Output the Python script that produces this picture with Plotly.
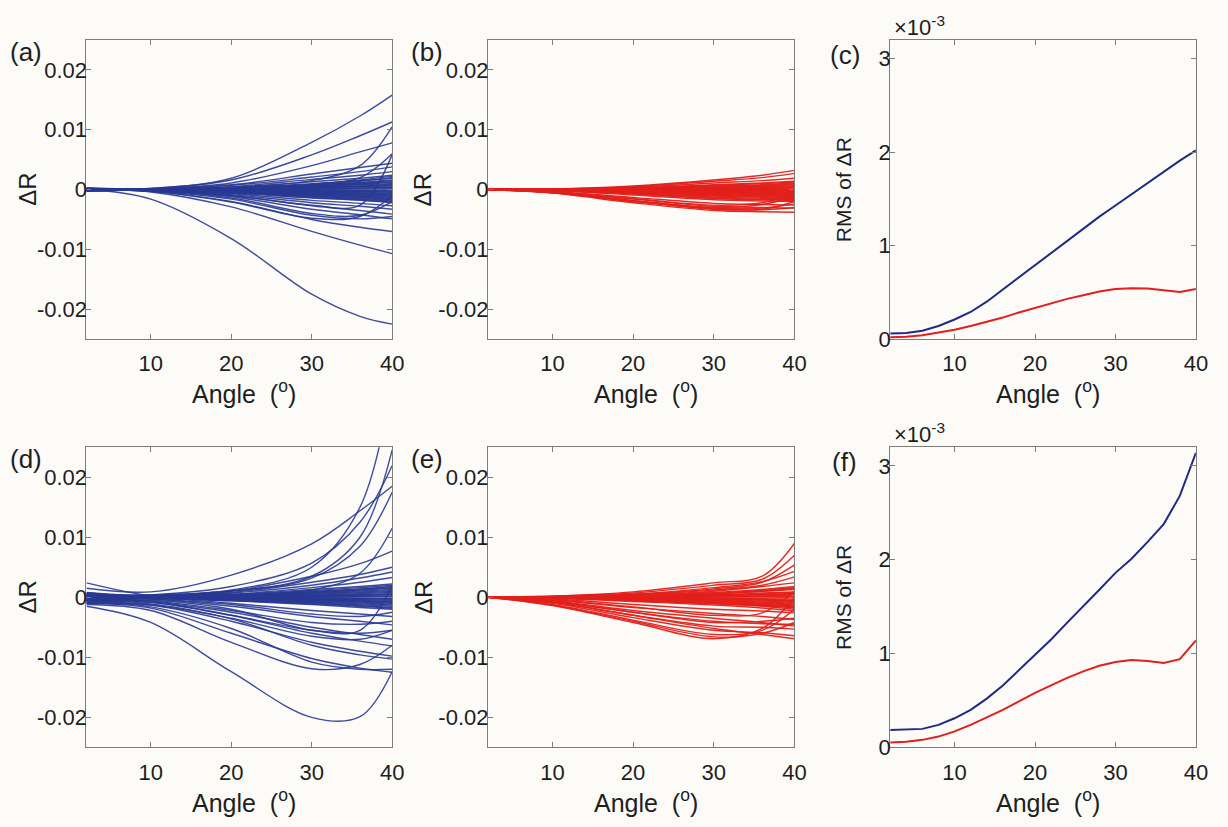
import plotly.graph_objects as go

# Angle nodes (degrees) at which each ΔR realisation is sampled
ANGLE_NODES = [2, 10, 20, 30, 36, 40]
# Angle grid of the RMS curves (degrees)
ANGLES = list(range(2, 41, 2))

# ΔR realisations, values in units of 1e-3 at ANGLE_NODES
dR_a = [
    [0.0, 0.2, 1.9, 7.9, 12.3, 15.8],
    [0.1, 0.2, 1.6, 5.8, 9.0, 11.3],
    [0.0, 0.1, 0.4, 1.5, 4.0, 10.5],
    [0.0, 0.1, 1.1, 4.0, 6.3, 7.8],
    [-0.1, 0.0, 0.3, 0.9, 2.0, 6.0],
    [0.0, 0.1, 0.8, 2.6, 3.7, 4.4],
    [0.1, 0.1, 0.7, 2.1, 3.0, 3.8],
    [0.0, 0.0, 0.5, 1.7, 2.4, 3.0],
    [-0.1, 0.0, 0.4, 1.3, 1.9, 2.4],
    [0.1, 0.05, 0.3, 1.0, 1.5, 1.9],
    [0.0, 0.05, 0.25, 0.8, 1.2, 1.6],
    [0.3, 0.0, 0.2, 0.6, 1.0, 1.3],
    [-0.2, 0.0, 0.15, 0.5, 0.8, 1.0],
    [0.0, 0.0, 0.1, 0.35, 0.55, 0.7],
    [0.2, 0.0, 0.05, 0.2, 0.3, 0.4],
    [-0.3, 0.0, 0.0, 0.05, 0.1, 0.15],
    [0.0, 0.0, -0.05, -0.1, -0.15, -0.2],
    [0.2, 0.0, -0.1, -0.25, -0.35, -0.45],
    [-0.2, -0.05, -0.15, -0.4, -0.55, -0.7],
    [0.0, -0.05, -0.2, -0.55, -0.75, -0.95],
    [0.1, -0.05, -0.3, -0.7, -0.95, -1.2],
    [-0.1, -0.05, -0.35, -0.85, -1.15, -1.45],
    [0.0, -0.1, -0.4, -1.0, -1.35, -1.7],
    [0.0, -0.1, -0.5, -1.2, -1.6, -1.95],
    [0.1, -0.1, -0.6, -1.4, -1.8, -2.2],
    [0.15, 0.02, 0.12, 0.45, 0.9, 1.2],
    [-0.15, 0.0, 0.08, 0.3, 0.6, 0.9],
    [0.25, 0.01, 0.02, 0.12, 0.25, 0.35],
    [-0.25, -0.02, -0.08, -0.2, -0.3, -0.35],
    [0.05, -0.03, -0.12, -0.35, -0.5, -0.6],
    [-0.05, -0.04, -0.18, -0.5, -0.7, -0.85],
    [0.15, -0.06, -0.25, -0.6, -0.85, -1.1],
    [-0.15, -0.06, -0.3, -0.75, -1.05, -1.3],
    [0.05, -0.08, -0.38, -0.9, -1.25, -1.55],
    [-0.05, -0.08, -0.45, -1.1, -1.5, -1.8],
    [0.1, 0.03, 0.18, 0.6, 1.1, 1.5],
    [-0.1, 0.04, 0.22, 0.7, 1.4, 2.0],
    [0.0, 0.02, 0.1, 0.25, 0.5, 0.6],
    [0.2, -0.02, -0.02, -0.05, -0.1, -0.05],
    [-0.2, -0.1, -0.5, -1.3, -1.7, -2.1],
    [0.0, 0.06, 0.28, 0.85, 1.6, 2.2],
    [0.0, -0.1, -0.7, -1.8, -2.3, -2.7],
    [-0.1, -0.15, -0.85, -2.2, -2.8, -3.3],
    [0.0, -0.15, -1.0, -2.7, -3.5, -4.1],
    [0.0, -0.2, -1.2, -3.3, -4.2, -4.9],
    [-0.1, -0.2, -1.4, -4.0, -4.3, -2.0],
    [0.0, -0.25, -1.6, -4.3, -4.9, -4.5],
    [0.0, -0.3, -2.0, -5.0, -6.3, -7.0],
    [0.0, -0.3, -2.1, -4.8, -4.5, -1.0],
    [0.0, -0.15, -1.0, -2.6, -2.6, 5.8],
    [0.0, -0.4, -2.9, -7.0, -9.3, -10.7],
    [0.0, -1.6, -8.2, -17.5, -21.2, -22.5],
]

dR_b = [
    [0, 0.1, 0.6, 1.6, 2.4, 3.2],
    [0, 0.1, 0.5, 1.4, 2.0, 2.7],
    [0, 0.05, 0.4, 1.1, 1.5, 1.9],
    [0, 0.05, 0.3, 0.8, 1.1, 1.4],
    [0, 0.0, 0.2, 0.6, 0.8, 1.1],
    [0, 0.0, 0.15, 0.4, 0.6, 0.8],
    [0, 0.0, 0.1, 0.25, 0.4, 0.5],
    [0, 0.0, 0.05, 0.1, 0.2, 0.25],
    [0, 0.0, 0.0, 0.0, 0.0, 0.0],
    [0, 0.0, -0.05, -0.1, -0.15, -0.2],
    [0, -0.05, -0.1, -0.25, -0.3, -0.4],
    [0, -0.05, -0.2, -0.4, -0.5, -0.6],
    [0, -0.05, -0.25, -0.55, -0.7, -0.8],
    [0, -0.1, -0.35, -0.7, -0.85, -1.0],
    [0, -0.1, -0.45, -0.9, -1.05, -1.2],
    [0, -0.1, -0.55, -1.1, -1.3, -1.5],
    [0, -0.15, -0.7, -1.4, -1.6, -1.7],
    [0, -0.2, -0.9, -1.7, -1.9, -2.0],
    [0, 0.02, 0.08, 0.2, 0.3, 0.35],
    [0, 0.02, 0.12, 0.32, 0.5, 0.65],
    [0, 0.03, 0.18, 0.5, 0.7, 0.95],
    [0, -0.02, -0.08, -0.18, -0.22, -0.3],
    [0, -0.03, -0.15, -0.32, -0.4, -0.5],
    [0, -0.04, -0.22, -0.48, -0.6, -0.7],
    [0, -0.06, -0.3, -0.62, -0.78, -0.9],
    [0, -0.08, -0.4, -0.8, -0.95, -1.1],
    [0, -0.1, -0.5, -1.0, -1.2, -1.35],
    [0, -0.12, -0.62, -1.25, -1.45, -1.6],
    [0, 0.0, 0.02, 0.05, 0.08, 0.1],
    [0, -0.01, -0.03, -0.05, -0.08, -0.1],
    [0, 0.04, 0.25, 0.7, 1.0, 1.25],
    [0, -0.15, -0.75, -1.5, -1.7, -1.85],
    [0, -0.3, -1.3, -2.3, -2.5, -2.6],
    [0, -0.4, -1.6, -2.8, -3.0, -3.1],
    [0, -0.5, -1.9, -3.1, -3.1, -2.4],
    [0, -0.55, -2.0, -3.3, -3.4, -3.0],
    [0, -0.6, -2.2, -3.5, -3.7, -3.8],
    [0, -0.5, -1.8, -3.0, -2.5, -1.2],
    [0, -0.4, -1.5, -2.6, -2.2, -0.5],
    [0, -0.5, -1.9, -3.2, -3.3, -2.0],
]

dR_d = [
    [0.5, 0.4, 1.2, 5.0, 15.0, 36.0],
    [0.0, 0.3, 1.0, 3.5, 10.0, 24.5],
    [1.5, 0.9, 3.7, 8.9, 14.4, 18.5],
    [0.3, 0.4, 1.8, 5.7, 12.5, 21.9],
    [0.2, 0.2, 1.0, 3.2, 8.5, 17.5],
    [-0.3, 0.0, 0.4, 1.2, 4.0, 11.5],
    [0.4, 0.3, 1.1, 3.5, 5.6, 7.7],
    [0.0, 0.2, 0.8, 2.5, 3.8, 5.0],
    [0.6, 0.2, 0.7, 2.0, 3.2, 4.2],
    [-0.2, 0.1, 0.5, 1.6, 2.5, 3.3],
    [0.8, 0.2, 0.4, 1.1, 1.6, 2.0],
    [-0.4, 0.1, 0.3, 0.8, 1.2, 1.5],
    [0.2, 0.1, 0.2, 0.6, 0.9, 1.1],
    [-0.6, 0.0, 0.1, 0.4, 0.6, 0.8],
    [0.5, 0.0, 0.1, 0.2, 0.3, 0.4],
    [-0.1, 0.0, 0.0, 0.0, 0.05, 0.1],
    [0.3, 0.0, -0.1, -0.2, -0.25, -0.3],
    [-0.8, -0.1, -0.2, -0.4, -0.55, -0.7],
    [0.1, -0.1, -0.3, -0.6, -0.8, -1.0],
    [-0.3, -0.2, -0.4, -0.8, -1.1, -1.3],
    [0.7, -0.1, -0.5, -1.0, -1.4, -1.7],
    [-0.5, -0.2, -0.6, -1.2, -1.7, -2.0],
    [0.6, 0.1, 0.35, 0.95, 1.4, 1.8],
    [-0.6, 0.05, 0.25, 0.7, 1.05, 1.3],
    [0.4, 0.05, 0.15, 0.5, 0.75, 0.95],
    [-0.4, 0.0, 0.05, 0.3, 0.45, 0.6],
    [0.2, 0.0, 0.02, 0.1, 0.15, 0.2],
    [-0.2, 0.0, -0.05, -0.1, -0.15, -0.15],
    [0.5, -0.05, -0.15, -0.3, -0.4, -0.5],
    [-0.5, -0.08, -0.25, -0.5, -0.7, -0.85],
    [0.0, -0.1, -0.35, -0.7, -0.95, -1.15],
    [0.3, -0.12, -0.45, -0.9, -1.25, -1.5],
    [-0.3, -0.15, -0.55, -1.1, -1.5, -1.85],
    [0.1, 0.08, 0.3, 0.85, 1.3, 1.65],
    [-0.1, 0.02, 0.08, 0.2, 0.35, 0.45],
    [0.7, -0.02, -0.08, -0.2, -0.25, -0.3],
    [-0.7, -0.06, -0.2, -0.4, -0.6, -0.7],
    [0.0, 0.1, 0.45, 1.3, 1.8, 2.2],
    [2.4, 0.2, -1.0, -2.2, -2.8, -3.2],
    [0.0, -0.3, -1.5, -3.2, -4.0, -4.6],
    [-0.5, -0.8, -2.5, -5.0, -6.2, -7.0],
    [-0.3, -0.7, -3.0, -6.0, -7.3, -8.1],
    [-0.8, -1.3, -4.0, -7.5, -9.0, -9.8],
    [-0.6, -1.1, -3.6, -8.0, -9.6, -10.3],
    [-1.0, -1.8, -6.0, -10.2, -11.8, -12.5],
    [-0.9, -1.6, -5.2, -10.8, -12.0, -12.0],
    [-1.2, -2.2, -7.5, -11.9, -11.2, -8.0],
    [-1.5, -4.2, -12.4, -20.0, -19.9, -12.4],
    [-0.5, -0.5, -2.0, -5.5, -5.5, 2.0],
    [-0.4, -0.6, -2.2, -4.2, -4.5, -4.0],
    [-0.7, -0.9, -3.0, -5.5, -6.0, -5.5],
    [-1.0, -1.3, -3.5, -6.5, -7.0, -5.5],
    [0.2, -0.3, -1.2, -2.8, -3.2, -2.5],
]

dR_e = [
    [0, 0.2, 0.9, 2.4, 3.5, 9.0],
    [0, 0.15, 0.7, 2.0, 3.0, 7.0],
    [0, 0.1, 0.5, 1.4, 2.5, 5.4],
    [0, 0.1, 0.5, 1.6, 2.6, 4.3],
    [0, 0.1, 0.4, 1.2, 2.0, 3.4],
    [0, 0.05, 0.3, 1.0, 1.8, 2.4],
    [0, 0.05, 0.25, 0.8, 1.3, 1.8],
    [0, 0.05, 0.2, 0.6, 1.0, 1.3],
    [0, 0.0, 0.15, 0.4, 0.7, 0.9],
    [0, 0.0, 0.1, 0.25, 0.4, 0.5],
    [0, 0.0, 0.0, 0.05, 0.1, 0.1],
    [0, 0.0, -0.05, -0.15, -0.25, -0.3],
    [0, -0.05, -0.15, -0.3, -0.5, -0.7],
    [0, -0.05, -0.25, -0.5, -0.8, -1.0],
    [0, -0.1, -0.35, -0.7, -1.0, -1.3],
    [0, -0.1, -0.45, -0.9, -1.3, -1.6],
    [0, -0.15, -0.6, -1.1, -1.5, -2.0],
    [0, 0.03, 0.18, 0.55, 1.0, 1.5],
    [0, 0.02, 0.12, 0.35, 0.6, 0.8],
    [0, 0.01, 0.05, 0.15, 0.25, 0.35],
    [0, -0.02, -0.08, -0.2, -0.35, -0.5],
    [0, -0.03, -0.2, -0.4, -0.65, -0.85],
    [0, -0.05, -0.3, -0.6, -0.9, -1.15],
    [0, -0.08, -0.4, -0.8, -1.15, -1.45],
    [0, -0.12, -0.52, -1.0, -1.4, -1.8],
    [0, -0.18, -0.7, -1.3, -1.8, -2.3],
    [0, 0.0, 0.02, 0.05, 0.05, 0.0],
    [0, 0.04, 0.22, 0.65, 1.15, 1.6],
    [0, -0.04, -0.12, -0.25, -0.4, -0.6],
    [0, 0.02, 0.08, 0.25, 0.45, 0.65],
    [0, -0.1, -0.45, -0.9, -1.25, -1.65],
    [0, -0.3, -1.2, -2.0, -2.3, -2.6],
    [0, -0.5, -1.7, -2.7, -3.2, -3.7],
    [0, -0.6, -2.2, -3.5, -4.2, -4.8],
    [0, -0.7, -2.5, -4.2, -4.0, -3.5],
    [0, -0.9, -3.0, -4.8, -5.0, -5.3],
    [0, -1.0, -3.4, -5.5, -5.9, -6.4],
    [0, -1.2, -3.8, -6.2, -5.5, -2.0],
    [0, -1.3, -4.0, -6.6, -6.0, -4.2],
    [0, -1.4, -4.2, -6.9, -5.2, 0.0],
    [0, -0.8, -3.0, -5.2, -6.2, -6.9],
    [0, -0.7, -2.5, -4.0, -4.4, -4.5],
    [0, -0.4, -1.6, -3.0, -2.6, 1.0],
]

# RMS of ΔR (units of 1e-3) on the ANGLES grid
rms_c_blue = [0.06, 0.065, 0.09, 0.14, 0.21, 0.29, 0.40, 0.53, 0.66, 0.79,
              0.92, 1.05, 1.18, 1.31, 1.43, 1.55, 1.67, 1.79, 1.91, 2.02]
rms_c_red = [0.02, 0.025, 0.04, 0.07, 0.10, 0.14, 0.185, 0.23, 0.285, 0.335,
             0.385, 0.43, 0.47, 0.51, 0.535, 0.545, 0.54, 0.52, 0.505, 0.535]
rms_f_blue = [0.186, 0.19, 0.197, 0.24, 0.31, 0.40, 0.52, 0.66, 0.82, 0.98,
              1.15, 1.33, 1.50, 1.68, 1.86, 2.01, 2.19, 2.38, 2.68, 3.14]
rms_f_red = [0.053, 0.06, 0.08, 0.115, 0.17, 0.24, 0.32, 0.40, 0.49, 0.58,
             0.66, 0.74, 0.81, 0.87, 0.91, 0.93, 0.92, 0.90, 0.94, 1.14]

X_TICKS = [10, 20, 30, 40]
DR_TICKS = [-0.02, -0.01, 0, 0.01, 0.02]
DR_TICKTEXT = ["-0.02", "-0.01", "0", "0.01", "0.02"]
RMS_TICKS = [0, 1, 2, 3]
RMS_TICKTEXT = ["0", "1", "2", "3"]
PANEL_LABELS = ["(a)", "(b)", "(c)", "(d)", "(e)", "(f)"]

W, H = 1228, 827
FONT = "Liberation Sans, Arial, sans-serif"
BG = "#fcfbf8"
TEXT = "#1e1e1e"
AXIS_GREY = "#7d7d7d"
BLUE_THIN = "rgba(40,56,146,0.9)"
RED_THIN = "rgba(226,32,26,0.95)"
BLUE_RMS = "rgb(32,42,130)"
RED_RMS = "rgb(226,30,30)"

# subplot boxes in pixels: (left, right) per column, (top, bottom) per row
COLS = [(87.3, 396.0), (492.7, 802.3), (899.0, 1207.7)]
ROWS = [(40.7, 344.5), (454.3, 759.3)]


def px_x(v):
    return v / W


def px_y(v):
    return 1 - v / H


fig = go.Figure()
layout = {}
annotations = []

panels = [dR_a, dR_b, None, dR_d, dR_e, None]
rms_sets = {2: (rms_c_blue, rms_c_red), 5: (rms_f_blue, rms_f_red)}

for i in range(6):
    r, c = divmod(i, 3)
    sfx = "" if i == 0 else str(i + 1)
    xa, ya = "x" + sfx, "y" + sfx
    left, right = COLS[c]
    top, bottom = ROWS[r]
    is_rms = i in rms_sets

    axis_style = dict(
        showline=True, mirror="ticks", linecolor=AXIS_GREY, linewidth=1,
        ticks="inside", ticklen=5, tickcolor=AXIS_GREY, tickwidth=1,
        showgrid=False, zeroline=False,
        tickfont=dict(family=FONT, size=22, color=TEXT),
    )
    layout["xaxis" + sfx] = dict(
        axis_style, domain=[px_x(left), px_x(right)], anchor=ya,
        range=[2, 40], tickvals=X_TICKS, ticktext=[str(t) for t in X_TICKS],
        ticklabelstandoff=5,
    )
    if is_rms:
        layout["yaxis" + sfx] = dict(
            axis_style, domain=[px_y(bottom), px_y(top)], anchor=xa,
            range=[0, 3.2], tickvals=RMS_TICKS, ticktext=RMS_TICKTEXT,
            ticklabelstandoff=-6,
        )
        blue, red = rms_sets[i]
        fig.add_trace(go.Scatter(x=ANGLES, y=blue, mode="lines", xaxis=xa, yaxis=ya,
                                 line=dict(color=BLUE_RMS, width=2),
                                 showlegend=False, hoverinfo="skip"))
        fig.add_trace(go.Scatter(x=ANGLES, y=red, mode="lines", xaxis=xa, yaxis=ya,
                                 line=dict(color=RED_RMS, width=2),
                                 showlegend=False, hoverinfo="skip"))
        ytitle, ysize = "RMS of ΔR", 21
        annotations.append(dict(
            text="×10<sup>-3</sup>", x=px_x(left + 2), y=px_y(top - 14),
            xref="paper", yref="paper", xanchor="left", yanchor="middle",
            showarrow=False, font=dict(family=FONT, size=22, color=TEXT)))
    else:
        layout["yaxis" + sfx] = dict(
            axis_style, domain=[px_y(bottom), px_y(top)], anchor=xa,
            range=[-0.025, 0.025], tickvals=DR_TICKS, ticktext=DR_TICKTEXT,
            ticklabelstandoff=-6,
        )
        color = BLUE_THIN if c == 0 else RED_THIN
        for row in panels[i]:
            fig.add_trace(go.Scatter(
                x=ANGLE_NODES, y=[v * 1e-3 for v in row], mode="lines",
                xaxis=xa, yaxis=ya,
                line=dict(color=color, width=1.4, shape="spline", smoothing=1.0),
                showlegend=False, hoverinfo="skip"))
        ytitle, ysize = "ΔR", 24

    # y-axis title
    ytx = {0: 27.5, 1: 427.0, 2: 852.0}[c]
    annotations.append(dict(
        text=ytitle, x=px_x(ytx), y=px_y((top + bottom) / 2),
        xref="paper", yref="paper", xanchor="center", yanchor="middle",
        textangle=-90, showarrow=False,
        font=dict(family=FONT, size=ysize, color=TEXT)))
    # x-axis title
    annotations.append(dict(
        text="Angle  (<sup>o</sup>)", x=px_x((left + right) / 2 + 5),
        y=px_y(bottom + 54), xref="paper", yref="paper",
        xanchor="center", yanchor="middle", showarrow=False,
        font=dict(family=FONT, size=25, color=TEXT)))
    # panel label
    lx = {0: 26.5, 1: 431.0, 2: 853.0}[c]
    ly = top + (12 if c < 2 else 15)
    annotations.append(dict(
        text=PANEL_LABELS[i], x=px_x(lx), y=px_y(ly),
        xref="paper", yref="paper", xanchor="center", yanchor="middle",
        showarrow=False, font=dict(family=FONT, size=26, color=TEXT)))

fig.update_layout(
    width=W, height=H,
    margin=dict(l=0, r=0, t=0, b=0),
    paper_bgcolor=BG, plot_bgcolor=BG,
    annotations=annotations,
    showlegend=False,
    **layout,
)

fig.write_html("out.html")
